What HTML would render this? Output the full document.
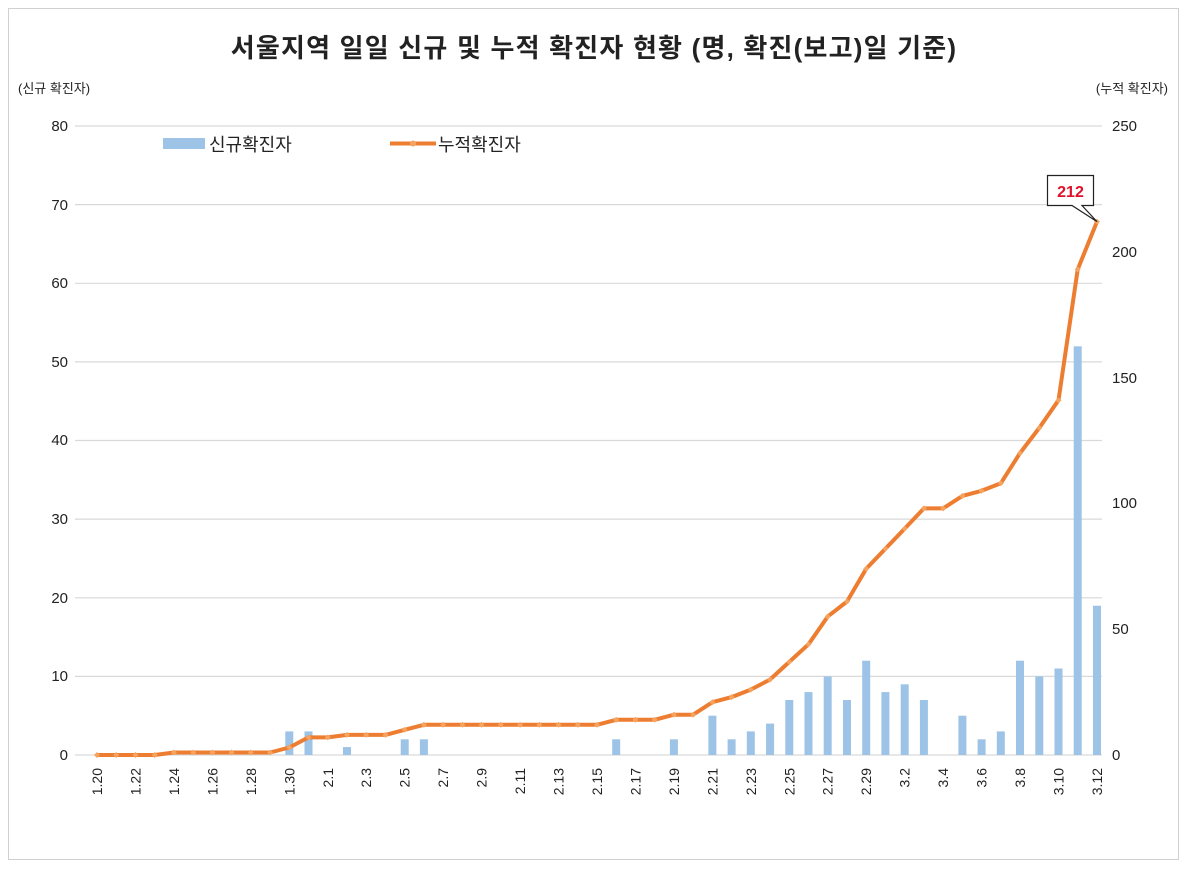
<!DOCTYPE html>
<html><head><meta charset="utf-8"><style>
html,body{margin:0;padding:0;background:#fff}
svg{display:block;font-family:"Liberation Sans","Noto Sans CJK KR",sans-serif}
</style></head><body>
<svg width="1188" height="870" viewBox="0 0 1188 870" xmlns="http://www.w3.org/2000/svg">
<rect x="8.5" y="8.5" width="1170" height="851" fill="#fff" stroke="#d0d0d0"/>
<text x="594" y="57" text-anchor="middle" font-size="26" font-weight="bold" letter-spacing="1.2" fill="#222">서울지역 일일 신규 및 누적 확진자 현황 (명, 확진(보고)일 기준)</text>
<text x="18" y="93" font-size="13" fill="#222">(신규 확진자)</text>
<text x="1168" y="93" font-size="13" fill="#222" text-anchor="end">(누적 확진자)</text>
<g stroke="#d9d9d9" stroke-width="1.2">
<line x1="75" y1="126" x2="1102" y2="126"/><line x1="75" y1="204.6" x2="1102" y2="204.6"/>
<line x1="75" y1="283.3" x2="1102" y2="283.3"/><line x1="75" y1="361.9" x2="1102" y2="361.9"/>
<line x1="75" y1="440.5" x2="1102" y2="440.5"/><line x1="75" y1="519.1" x2="1102" y2="519.1"/>
<line x1="75" y1="597.8" x2="1102" y2="597.8"/><line x1="75" y1="676.4" x2="1102" y2="676.4"/>
<line x1="75" y1="755" x2="1102" y2="755"/>
</g>
<g font-size="15" fill="#222" text-anchor="end">
<text x="68" y="131">80</text><text x="68" y="210">70</text><text x="68" y="288">60</text>
<text x="68" y="367">50</text><text x="68" y="445">40</text><text x="68" y="524">30</text>
<text x="68" y="603">20</text><text x="68" y="681">10</text><text x="68" y="760">0</text>
</g>
<g font-size="15" fill="#222">
<text x="1112" y="131">250</text><text x="1112" y="257">200</text><text x="1112" y="383">150</text>
<text x="1112" y="508">100</text><text x="1112" y="634">50</text><text x="1112" y="760">0</text>
</g>
<g fill="#9dc3e6">
<rect x="285.3" y="731.4" width="8" height="23.6"/><rect x="304.5" y="731.4" width="8" height="23.6"/>
<rect x="343" y="747.1" width="8" height="7.9"/><rect x="400.7" y="739.3" width="8" height="15.7"/>
<rect x="419.9" y="739.3" width="8" height="15.7"/><rect x="612.2" y="739.3" width="8" height="15.7"/>
<rect x="669.9" y="739.3" width="8" height="15.7"/><rect x="708.4" y="715.7" width="8" height="39.3"/>
<rect x="727.6" y="739.3" width="8" height="15.7"/><rect x="746.8" y="731.4" width="8" height="23.6"/>
<rect x="766.1" y="723.6" width="8" height="31.4"/><rect x="785.3" y="700" width="8" height="55"/>
<rect x="804.5" y="692.1" width="8" height="62.9"/><rect x="823.7" y="676.4" width="8" height="78.6"/>
<rect x="843" y="700" width="8" height="55"/><rect x="862.2" y="660.7" width="8" height="94.3"/>
<rect x="881.4" y="692.1" width="8" height="62.9"/><rect x="900.7" y="684.3" width="8" height="70.7"/>
<rect x="919.9" y="700" width="8" height="55"/><rect x="958.4" y="715.7" width="8" height="39.3"/>
<rect x="977.6" y="739.3" width="8" height="15.7"/><rect x="996.8" y="731.4" width="8" height="23.6"/>
<rect x="1016" y="660.7" width="8" height="94.3"/><rect x="1035.3" y="676.4" width="8" height="78.6"/>
<rect x="1054.5" y="668.5" width="8" height="86.5"/><rect x="1073.7" y="346.3" width="8" height="408.7"/>
<rect x="1093" y="605.7" width="8" height="149.3"/>
</g>
<defs><marker id="m" viewBox="-3 -3 6 6" markerWidth="6" markerHeight="6" markerUnits="userSpaceOnUse"><path d="M0,-3 L3,0 L0,3 L-3,0 Z" fill="#f4a460"/></marker></defs>
<polyline fill="none" stroke="#ed7d31" stroke-width="4" stroke-linejoin="round" marker-start="url(#m)" marker-mid="url(#m)" marker-end="url(#m)" points="97,755 116.2,755 135.5,755 154.7,755 173.9,752.5 193.2,752.5 212.4,752.5 231.6,752.5 250.8,752.5 270.1,752.5 289.3,747.5 308.5,737.4 327.8,737.4 347,734.9 366.2,734.9 385.5,734.9 404.7,729.8 423.9,724.8 443.1,724.8 462.4,724.8 481.6,724.8 500.8,724.8 520.1,724.8 539.3,724.8 558.5,724.8 577.8,724.8 597,724.8 616.2,719.8 635.4,719.8 654.7,719.8 673.9,714.7 693.1,714.7 712.4,702.2 731.6,697.1 750.8,689.6 770.1,679.5 789.3,661.9 808.5,644.3 827.7,616.6 847,601.5 866.2,568.8 885.4,548.7 904.7,528.6 923.9,508.4 943.1,508.4 962.4,495.9 981.6,490.8 1000.8,483.3 1020,453.1 1039.3,427.9 1058.5,400.2 1077.7,269.4 1097,221.6"/>
<g font-size="14" fill="#222" text-anchor="end">
<text transform="translate(102,768) rotate(-90)">1.20</text>
<text transform="translate(140.5,768) rotate(-90)">1.22</text>
<text transform="translate(178.9,768) rotate(-90)">1.24</text>
<text transform="translate(217.4,768) rotate(-90)">1.26</text>
<text transform="translate(255.8,768) rotate(-90)">1.28</text>
<text transform="translate(294.3,768) rotate(-90)">1.30</text>
<text transform="translate(332.8,768) rotate(-90)">2.1</text>
<text transform="translate(371.2,768) rotate(-90)">2.3</text>
<text transform="translate(409.7,768) rotate(-90)">2.5</text>
<text transform="translate(448.1,768) rotate(-90)">2.7</text>
<text transform="translate(486.6,768) rotate(-90)">2.9</text>
<text transform="translate(525.1,768) rotate(-90)">2.11</text>
<text transform="translate(563.5,768) rotate(-90)">2.13</text>
<text transform="translate(602,768) rotate(-90)">2.15</text>
<text transform="translate(640.4,768) rotate(-90)">2.17</text>
<text transform="translate(678.9,768) rotate(-90)">2.19</text>
<text transform="translate(717.4,768) rotate(-90)">2.21</text>
<text transform="translate(755.8,768) rotate(-90)">2.23</text>
<text transform="translate(794.3,768) rotate(-90)">2.25</text>
<text transform="translate(832.7,768) rotate(-90)">2.27</text>
<text transform="translate(871.2,768) rotate(-90)">2.29</text>
<text transform="translate(909.7,768) rotate(-90)">3.2</text>
<text transform="translate(948.1,768) rotate(-90)">3.4</text>
<text transform="translate(986.6,768) rotate(-90)">3.6</text>
<text transform="translate(1025,768) rotate(-90)">3.8</text>
<text transform="translate(1063.5,768) rotate(-90)">3.10</text>
<text transform="translate(1102,768) rotate(-90)">3.12</text>
</g>
<rect x="163" y="138" width="42" height="11" fill="#9dc3e6"/>
<text x="209" y="151" font-size="18" fill="#222">신규확진자</text>
<line x1="390" y1="143.5" x2="436" y2="143.5" stroke="#ed7d31" stroke-width="4"/>
<circle cx="413" cy="143.5" r="3" fill="#f4a460"/>
<text x="438" y="151" font-size="18" fill="#222">누적확진자</text>
<path d="M1047.5,175.5 H1093.5 V205.5 H1082 L1097,221.6 L1072,205.5 H1047.5 Z" fill="#fff" stroke="#222" stroke-width="1.2"/>
<text x="1070.5" y="197" text-anchor="middle" font-size="16" font-weight="bold" fill="#e0102a">212</text>
</svg>
</body></html>
